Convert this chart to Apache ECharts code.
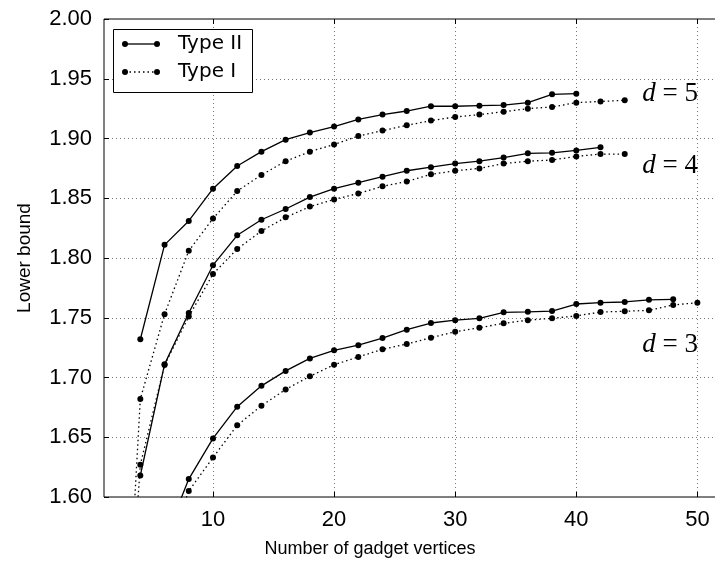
<!DOCTYPE html>
<html>
<head>
<meta charset="utf-8">
<script src="https://cdn.jsdelivr.net/npm/echarts@6/dist/echarts.min.js"></script>
<style>
  html, body { margin: 0; padding: 0; background: #fff; }
  #chart { width: 715px; height: 561px; }
</style>
</head>
<body>
<div id="chart"></div>
<script>
// values
var xTicks = [10, 20, 30, 40, 50];

var x5II = [4, 6, 8, 10, 12, 14, 16, 18, 20, 22, 24, 26, 28, 30, 32, 34, 36, 38, 40];
var y5II = [1.732, 1.811, 1.831, 1.858, 1.877, 1.889, 1.899, 1.905, 1.910, 1.916, 1.920, 1.923, 1.927, 1.927, 1.9275, 1.928, 1.930, 1.937, 1.9375];

var x5I = [3, 4, 6, 8, 10, 12, 14, 16, 18, 20, 22, 24, 26, 28, 30, 32, 34, 36, 38, 40, 42, 44];
var y5I = [1.50, 1.682, 1.753, 1.806, 1.833, 1.856, 1.8695, 1.881, 1.889, 1.895, 1.902, 1.9066, 1.911, 1.915, 1.918, 1.920, 1.9224, 1.925, 1.9264, 1.930, 1.931, 1.932];

var x4II = [4, 6, 8, 10, 12, 14, 16, 18, 20, 22, 24, 26, 28, 30, 32, 34, 36, 38, 40, 42];
var y4II = [1.618, 1.711, 1.754, 1.794, 1.819, 1.832, 1.841, 1.851, 1.858, 1.863, 1.868, 1.873, 1.876, 1.879, 1.881, 1.884, 1.8876, 1.888, 1.890, 1.8926];

var x4I = [3, 4, 6, 8, 10, 12, 14, 16, 18, 20, 22, 24, 26, 28, 30, 32, 34, 36, 38, 40, 42, 44];
var y4I = [1.48, 1.627, 1.7105, 1.751, 1.7866, 1.8075, 1.8226, 1.834, 1.843, 1.849, 1.854, 1.860, 1.864, 1.870, 1.873, 1.875, 1.879, 1.881, 1.882, 1.885, 1.887, 1.887];

var x3II = [6, 8, 10, 12, 14, 16, 18, 20, 22, 24, 26, 28, 30, 32, 34, 36, 38, 40, 42, 44, 46, 48];
var y3II = [1.564, 1.615, 1.649, 1.6756, 1.693, 1.7055, 1.716, 1.7227, 1.727, 1.733, 1.740, 1.7456, 1.748, 1.7495, 1.7545, 1.755, 1.7556, 1.7615, 1.7626, 1.7632, 1.765, 1.7654];

var x3I = [6, 8, 10, 12, 14, 16, 18, 20, 22, 24, 26, 28, 30, 32, 34, 36, 38, 40, 42, 44, 46, 48, 50];
var y3I = [1.55, 1.605, 1.633, 1.660, 1.6764, 1.690, 1.701, 1.7107, 1.7172, 1.7236, 1.728, 1.7333, 1.7383, 1.7417, 1.7453, 1.748, 1.7495, 1.7515, 1.7548, 1.7554, 1.7562, 1.7607, 1.7626];

var curveLabels = ['5', '4', '3'];

function pairs(xs, ys) {
  var out = [];
  for (var i = 0; i < xs.length; i++) out.push([xs[i], ys[i]]);
  return out;
}

var dotted = [1.5, 3];
function mkSeries(name, xs, ys, dashed) {
  return {
    name: name,
    type: 'line',
    data: pairs(xs, ys),
    symbol: 'circle',
    symbolSize: 6,
    showSymbol: true,
    clip: true,
    animation: false,
    itemStyle: { color: '#000' },
    lineStyle: { color: '#000', width: 1.3, type: dashed ? dotted : 'solid' },
    emphasis: { disabled: true }
  };
}

var myChart = echarts.init(document.getElementById('chart'));

var gridCol = '#777';
var option = {
  backgroundColor: '#fff',
  animation: false,
  grid: {
    left: 104, top: 19, width: 617.6, height: 478,
    outerBoundsMode: 'none', containLabel: false,
    show: true, borderColor: '#000', borderWidth: 1, backgroundColor: 'transparent'
  },
  xAxis: [{
    type: 'value',
    min: 1, max: 52,
    axisLine: { show: false },
    axisTick: { show: true, inside: true, length: 5, customValues: xTicks, lineStyle: { color: '#000' } },
    axisLabel: {
      customValues: xTicks, margin: 12,
      color: '#000', fontFamily: 'Liberation Sans', fontSize: 22
    },
    splitLine: { show: true, lineStyle: { color: gridCol, width: 1, type: [1, 3] } }
  }, {
    type: 'value',
    position: 'top',
    min: 1, max: 52,
    axisLine: { show: false },
    axisTick: { show: true, inside: true, length: 5, customValues: xTicks, lineStyle: { color: '#000' } },
    axisLabel: { show: false },
    splitLine: { show: false }
  }],
  yAxis: {
    type: 'value',
    min: 1.6, max: 2.0, interval: 0.05,
    axisLine: { show: false },
    axisTick: { show: true, inside: true, length: 5, lineStyle: { color: '#000' } },
    axisLabel: {
      margin: 12, color: '#000', fontFamily: 'Liberation Sans', fontSize: 22,
      formatter: function (v) { return v.toFixed(2); }
    },
    splitLine: { show: true, lineStyle: { color: gridCol, width: 1, type: [1, 3] } },
    name: 'Lower bound',
    nameLocation: 'middle',
    nameGap: 70,
    nameTextStyle: { color: '#000', fontFamily: 'Liberation Sans', fontSize: 19 }
  },
  series: [
    mkSeries('Type II', x5II, y5II, false),
    mkSeries('Type I', x5I, y5I, true),
    mkSeries('Type II', x4II, y4II, false),
    mkSeries('Type I', x4I, y4I, true),
    mkSeries('Type II', x3II, y3II, false),
    mkSeries('Type I', x3I, y3I, true)
  ],
  graphic: [
    // x axis title
    { type: 'text', x: 370, y: 549, z: 50,
      style: { text: 'Number of gadget vertices', fill: '#000', font: '18px "Liberation Sans"',
               align: 'center', verticalAlign: 'middle' } },
    // legend box
    { type: 'rect', left: 113, top: 29, z: 100,
      shape: { width: 139, height: 63 },
      style: { fill: '#fff', stroke: '#000', lineWidth: 1 } },
    { type: 'line', z: 101, shape: { x1: 125, y1: 44, x2: 157, y2: 44 },
      style: { stroke: '#000', lineWidth: 1.3 } },
    { type: 'circle', z: 101, shape: { cx: 125, cy: 44, r: 3 }, style: { fill: '#000' } },
    { type: 'circle', z: 101, shape: { cx: 157, cy: 44, r: 3 }, style: { fill: '#000' } },
    { type: 'text', z: 101, x: 178, y: 44,
      style: { text: 'Type II', fill: '#000', font: '20px "DejaVu Sans"', verticalAlign: 'middle' } },
    { type: 'line', z: 101, shape: { x1: 125, y1: 72, x2: 157, y2: 72 },
      style: { stroke: '#000', lineWidth: 1.3, lineDash: dotted } },
    { type: 'circle', z: 101, shape: { cx: 125, cy: 72, r: 3 }, style: { fill: '#000' } },
    { type: 'circle', z: 101, shape: { cx: 157, cy: 72, r: 3 }, style: { fill: '#000' } },
    { type: 'text', z: 101, x: 178, y: 72,
      style: { text: 'Type I', fill: '#000', font: '20px "DejaVu Sans"', verticalAlign: 'middle' } }
  ]
};

// curve labels d = 5, 4, 3
var labelTops = [80, 152, 331];
for (var k = 0; k < curveLabels.length; k++) {
  option.graphic.push({
    type: 'text', z: 90, right: 17, top: labelTops[k],
    style: {
      text: '{i|d} {n|= ' + curveLabels[k] + '}',
      fill: '#000',
      rich: {
        i: { fontFamily: 'Liberation Serif', fontStyle: 'italic', fontSize: 27 },
        n: { fontFamily: 'Liberation Serif', fontSize: 27 }
      },
      font: '27px "Liberation Serif"'
    }
  });
}

myChart.setOption(option);
</script>
</body>
</html>
